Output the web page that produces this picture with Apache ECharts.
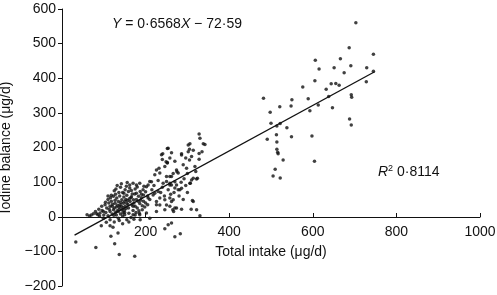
<!DOCTYPE html>
<html>
<head>
<meta charset="utf-8">
<script src="https://cdn.jsdelivr.net/npm/echarts@6/dist/echarts.min.js"></script>
<style>
  html, body { margin: 0; padding: 0; background: #fff; }
  #chart { width: 497px; height: 295px; }
</style>
</head>
<body>
<div id="chart"></div>
<script>
// tick labels
const xTicks = [0, 200, 400, 600, 800, 1000]
const yTicks = [-200, -100, 0, 100, 200, 300, 400, 500, 600]

// total intake vs iodine balance (µg/d)
const lowCluster = [
  [170,97],[186,97],[178,92],[162,83],[151,78],[159,73],[187,73],[196,88],[140,85],[132,90],
  [125,75],[145,70],[175,80],[190,65],[195,63],[183,59],[168,66],[155,62],[148,57],[138,60],
  [128,65],[123,59],[116,55],[110,50],[131,54],[143,49],[135,44],[127,39],[139,35],[147,39],
  [151,30],[155,39],[163,44],[171,49],[167,35],[175,30],[159,25],[143,20],[135,15],[123,20],
  [115,30],[107,25],[99,15],[91,11],[83,9],[75,9],[70,5],[80,15],[88,22],[95,30],
  [103,35],[112,40],[118,45],[120,30],[125,25],[130,28],[137,22],[142,30],[150,45],[153,50],
  [158,35],[165,55],[172,40],[178,50],[182,45],[186,38],[190,55],[195,45],[200,40],[180,25],
  [170,18],[160,10],[150,12],[140,8],[130,5],[120,8],[110,3],[100,5],[90,2],[115,15],
  [128,12],[145,2],[165,-2],[175,5],[185,10],[192,20],[198,28],[205,35],[210,50],[205,60],
  [200,72],[133,33],[137,28],[141,41],[146,26],[149,19],[153,24],[157,47],[161,52],[127,48],
  [121,36],[113,22],[105,12],[96,18],[86,6],[118,62],[136,70],[154,88],[162,92],[166,76],
  [180,86],[174,66],[188,48],[192,32],[184,17],[177,12],[170,30],[146,12],[132,17],[124,4],
  [60,6],[66,2],[104,42],[110,60],[142,95],[156,99],[129,80],[148,68]
]
const lowNegative = [
  [99,-4],[115,-9],[135,-4],[155,-9],[187,-9],[210,-4],[106,-16],[94,-26],[122,-30],[115,-26],
  [137,-11],[117,-56],[134,-47],[126,-78],[33,-73],[81,-89],[137,-109],[174,-114],[246,-35],[254,-23],
  [262,-18],[270,-58],[283,-49],[172,-7],[125,-15],[145,-20],[160,-15]
]
const upperBand = [
  [238,179],[249,159],[252,155],[246,145],[226,135],[234,126],[222,121],[274,135],[278,126],[258,116],
  [250,102],[258,92],[250,116],[262,116],[262,92],[254,78],[270,83],[252,197],[254,198],[302,207],
  [302,188],[305,195],[310,174],[305,164],[286,182],[286,178],[241,182],[252,157],[306,211],[314,192],
  [328,183],[338,211],[342,209],[328,239],[330,227],[335,188],[318,145],[328,166],[320,131],[314,111],
  [322,109],[306,97],[310,106],[324,111],[307,97],[278,78],[286,82],[266,125],[275,130],[270,101],
  [258,97],[242,97],[214,101],[202,87],[194,78],[178,68],[166,58],[206,54],[218,63],[226,44],
  [234,34],[250,34],[262,44],[312,47],[309,22],[286,22],[330,3],[322,20],[314,44],[267,15],
  [246,20],[226,15],[202,11],[186,6],[170,6],[150,6],[258,30],[265,20],[274,25],[258,54],
  [246,49],[232,140],[240,165],[258,170],[262,185],[270,160],[290,150],[296,170],[298,140],[300,125],
  [292,110],[285,100],[296,90],[280,60],[290,50],[300,70],[230,105],[220,90],[240,85],[236,70],
  [245,60],[260,65],[268,70],[215,78],[222,68],[230,73],[234,54],[226,35],[266,49],[270,25],
  [274,92],[282,78],[210,102],[206,92]
]
const highCluster = [
  [703,560],[687,488],[745,469],[606,452],[666,456],[615,427],[651,430],[691,436],[729,430],[675,416],
  [745,420],[605,393],[644,384],[655,385],[663,380],[728,390],[576,375],[632,368],[638,347],[692,352],
  [693,345],[482,342],[550,338],[589,341],[521,318],[548,320],[613,323],[647,315],[498,302],[593,306],
  [688,282],[692,265],[500,270],[522,269],[514,262],[538,257],[491,224],[513,237],[514,216],[549,231],
  [598,233],[514,195],[516,186],[517,182],[529,164],[604,160],[510,137],[505,118],[522,112]
]

// fitted line Y = 0.6568X - 72.59, end points as drawn
const fitX = [30, 748]
const fitY = [-52.9, 418.7]

const points = lowCluster.concat(lowNegative, upperBand, highCluster)
const fitData = fitX.map((x, i) => [x, fitY[i]])

const font = 'Liberation Sans, Arial, Helvetica, sans-serif'
const ink = '#111'

// x axis sits on y = 0, which is 69px above the plot bottom
const chart = echarts.init(document.getElementById('chart'))
const option = {
  animation: false,
  grid: { left: 62, right: 17, top: 9, bottom: 9, containLabel: false, outerBoundsMode: 'none' },
  xAxis: {
    type: 'value',
    min: xTicks[0],
    max: xTicks[xTicks.length - 1],
    interval: 200,
    offset: -69,
    name: 'Total intake (μg/d)',
    nameLocation: 'middle',
    nameGap: 28,
    nameTextStyle: { fontFamily: font, fontSize: 14, color: ink },
    axisLine: { onZero: false, lineStyle: { color: ink, width: 1 } },
    axisTick: { inside: true, length: 4, lineStyle: { color: ink } },
    axisLabel: {
      showMinLabel: false,
      margin: 8,
      fontFamily: font, fontSize: 14, color: ink,
      formatter: v => String(v)
    },
    splitLine: { show: false }
  },
  yAxis: {
    type: 'value',
    min: yTicks[0],
    max: yTicks[yTicks.length - 1],
    interval: 100,
    name: 'Iodine balance (μg/d)',
    nameLocation: 'middle',
    nameGap: 44,
    nameTextStyle: { fontFamily: font, fontSize: 14, color: ink },
    axisLine: { show: true, onZero: false, lineStyle: { color: ink, width: 1 } },
    axisTick: { show: true, inside: false, length: 4, lineStyle: { color: ink } },
    axisLabel: {
      margin: 6,
      fontFamily: font, fontSize: 14, color: ink,
      formatter: v => String(v).replace('-', '\u2212')
    },
    splitLine: { show: false }
  },
  graphic: [
    {
      type: 'text', left: 112, top: 17,
      style: {
        text: '{i|Y}{n| = 0·6568}{i|X}{n| \u2212 72·59}',
        rich: {
          i: { fontFamily: font, fontSize: 14, fontStyle: 'italic', fill: ink },
          n: { fontFamily: font, fontSize: 14, fill: ink }
        }
      }
    },
    {
      type: 'text', left: 378, top: 164,
      style: {
        text: '{i|R}{s|2}{n| 0·8114}',
        rich: {
          i: { fontFamily: font, fontSize: 14, fontStyle: 'italic', fill: ink },
          s: { fontFamily: font, fontSize: 9, fill: ink, verticalAlign: 'top', padding: [0, 0, 8, 0] },
          n: { fontFamily: font, fontSize: 14, fill: ink }
        }
      }
    }
  ],
  series: [
    {
      type: 'scatter',
      data: points,
      symbol: 'circle',
      symbolSize: 3.5,
      itemStyle: { color: ink },
      silent: true
    },
    {
      type: 'line',
      data: fitData,
      showSymbol: false,
      lineStyle: { color: ink, width: 1.3 },
      silent: true
    }
  ]
}
chart.setOption(option)
</script>
</body>
</html>
